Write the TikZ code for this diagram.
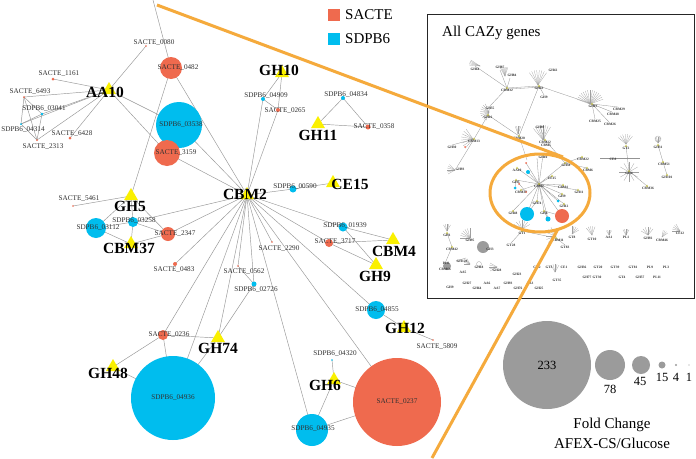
\documentclass[tikz,border=0pt]{standalone}
\usepackage{fontspec}
\setmainfont{Liberation Serif}
\usetikzlibrary{shapes.geometric,backgrounds}
\definecolor{sacred}{RGB}{239,106,78}
\definecolor{sdpblue}{RGB}{0,189,238}
\definecolor{famyellow}{RGB}{250,240,0}
\definecolor{edgegray}{RGB}{150,150,150}
\definecolor{labgray}{RGB}{50,50,50}
\definecolor{fcgray}{RGB}{155,155,155}
\definecolor{zoomorange}{RGB}{245,170,60}
\newcommand\ifanat[6]{\foreach \a in {#3,#4,...,#5} \draw[ifan] (#1,#2) -- ++(\a:#6);}
\begin{document}
\begin{tikzpicture}[x=1pt,y=-1pt,
  edge/.style={draw=edgegray, line width=0.45pt},
  sac/.style={circle, fill=sacred, inner sep=0pt},
  sdp/.style={circle, fill=sdpblue, inner sep=0pt},
  fam/.style={regular polygon, regular polygon sides=3, fill=famyellow, inner sep=0pt, minimum size=16pt},
  famlab/.style={font=\bfseries\fontsize{15.5}{15.5}\selectfont, inner sep=0pt},
  glab/.style={font=\fontsize{7.2}{7.2}\selectfont, text=labgray, inner sep=0pt},
  ilab/.style={font=\bfseries\fontsize{3.5}{3.5}\selectfont, text=black!80, inner sep=0pt},
  iedge/.style={draw=gray!85, line width=0.3pt},
  ifan/.style={draw=gray!75, line width=0.25pt},
  itri/.style={regular polygon, regular polygon sides=3, fill=famyellow!60!gray, inner sep=0pt, minimum size=2.6pt},
  fc/.style={circle, fill=fcgray, inner sep=0pt},
  zoomline/.style={draw=zoomorange, line width=3pt}]
\useasboundingbox (0,0) rectangle (696,458);

% ---------- gene nodes ----------
\node[sac, minimum size=1.6pt] (s0080) at (146,46) {};
\node[sac, minimum size=22pt] (s0482) at (171,68) {};
\node[sac, minimum size=3pt] (s1161) at (53,79) {};
\node[sac, minimum size=2pt] (s6493) at (24,97) {};
\node[sdp, minimum size=2.6pt] (d03041) at (42,114) {};
\node[sdp, minimum size=2pt] (d04314) at (21,124) {};
\node[sac, minimum size=2pt] (s2313) at (37,140) {};
\node[sac, minimum size=3pt] (s6428) at (70,138) {};
\node[sdp, minimum size=46pt] (d03538) at (179,125) {};
\node[sac, minimum size=26pt] (s3159) at (167,153) {};
\node[sdp, minimum size=4pt] (d04909) at (263,99) {};
\node[sac, minimum size=4pt] (s0265) at (278,110) {};
\node[sdp, minimum size=4pt] (d04834) at (343,98) {};
\node[sac, minimum size=5pt] (s0358) at (368,127) {};
\node[sdp, minimum size=7pt] (d00590) at (293,189) {};
\node[sdp, minimum size=9pt] (d01939) at (343,227) {};
\node[sac, minimum size=8pt] (s3717) at (329,243) {};
\node[sac, minimum size=1.6pt] (s2290) at (272,242) {};
\node[sac, minimum size=1.6pt] (s0562) at (238,266) {};
\node[sdp, minimum size=5pt] (d02726) at (254,284) {};
\node[sdp, minimum size=18pt] (d04855) at (376,310) {};
\node[sac, minimum size=1.6pt] (s5809) at (433,340) {};
\node[sdp, minimum size=1.6pt] (d04320) at (332,360) {};
\node[sac, minimum size=88pt] (s0237) at (397,402) {};
\node[sdp, minimum size=32pt] (d04935) at (312,430) {};
\node[sac, minimum size=10pt] (s0236) at (163,335) {};
\node[sdp, minimum size=84pt] (d04936) at (173,398) {};
\node[sac, minimum size=1.6pt] (s5461) at (73,206) {};
\node[sdp, minimum size=10pt] (d03258) at (133,222) {};
\node[sdp, minimum size=20pt] (d03112) at (96,228) {};
\node[sac, minimum size=14pt] (s2347) at (168,234) {};
\node[sac, minimum size=4pt] (s0483) at (175,264) {};
\coordinate (topend) at (153,0);

% ---------- family nodes ----------
\node[fam] (fAA10) at (109,90) {};
\node[fam] (fGH10) at (282,73) {};
\node[fam] (fGH11) at (318,124) {};
\node[fam] (fCE15) at (333,183) {};
\node[fam] (fCBM2) at (247,195) {};
\node[fam] (fCBM4) at (393,240) {};
\node[fam] (fGH9) at (376,265) {};
\node[fam] (fGH12) at (404,328) {};
\node[fam] (fGH6) at (334,380) {};
\node[fam] (fGH74) at (218,338) {};
\node[fam] (fGH48) at (113,367) {};
\node[fam] (fGH5) at (131,196) {};
\node[fam] (fCBM37) at (131,244) {};

% ---------- edges ----------
\begin{scope}[on background layer]
\fill[white] (0,0) rectangle (696,458);
\draw[edge] (topend) -- (s0482.center);
\foreach \a/\b in {fAA10/s0080,fAA10/s1161,fAA10/s6493,fAA10/d03041,fAA10/d04314,fAA10/s2313,fAA10/s6428,fAA10/d03538,fAA10/s3159,
  s6493/d03041,s6493/d04314,s6493/s2313,d03041/d04314,d03041/s2313,d04314/s2313,
  s0482/fGH5,s0482/fCBM2,d03538/s3159,d03538/fCBM2,s3159/fCBM2,
  fGH10/d04909,fGH10/s0265,d04909/s0265,d04909/fCBM2,s0265/fCBM2,
  fGH11/d04834,fGH11/s0358,d04834/s0358,
  fCE15/d00590,d00590/fCBM2,
  fCBM2/d01939,d01939/fCBM4,d01939/fGH9,s3717/fCBM4,s3717/fGH9,fCBM2/s3717,
  fCBM2/s2290,fCBM2/s0562,s0562/d02726,fCBM2/d02726,d02726/fGH74,
  fCBM2/d04855,d04855/fGH12,fGH12/s5809,
  fCBM2/s0237,fCBM2/d04935,fGH6/d04320,fGH6/s0237,fGH6/d04935,d04935/s0237,
  fCBM2/s0236,fCBM2/d04936,fCBM2/fGH74,s0236/fGH48,s0236/fGH74,s0236/d04936,fGH48/d04936,fGH74/d04936,
  fCBM2/d03258,fCBM2/s2347,fCBM2/s0483,
  fGH5/s5461,fGH5/d03258,fGH5/d03112,fGH5/s2347,d03258/fCBM37,d03112/fCBM37,s2347/fCBM37,d03258/s2347,d03112/d03258}
  \draw[edge] (\a.center) -- (\b.center);
\end{scope}

% ---------- gene labels ----------
\node[glab] (l0080) at (154,43) {SACTE\_0080};
\node[glab] (l0482) at (178,68) {SACTE\_0482};
\node[glab] (l1161) at (59,74) {SACTE\_1161};
\node[glab] (l6493) at (30,92) {SACTE\_6493};
\node[glab] (l03041) at (44,109) {SDPB6\_03041};
\node[glab] (l04314) at (23,130) {SDPB6\_04314};
\node[glab] (l6428) at (72,134) {SACTE\_6428};
\node[glab] (l2313) at (43,147) {SACTE\_2313};
\node[glab] (l03538) at (181,125) {SDPB6\_03538};
\node[glab] (l3159) at (176,153) {SACTE\_3159};
\node[glab] (l04909) at (266,96) {SDPB6\_04909};
\node[glab] (l0265) at (285,111) {SACTE\_0265};
\node[glab] (l04834) at (346,95) {SDPB6\_04834};
\node[glab] (l0358) at (374,127) {SACTE\_0358};
\node[glab] (l00590) at (295,187) {SDPB6\_00590};
\node[glab] (l01939) at (345,226) {SDPB6\_01939};
\node[glab] (l3717) at (335,242) {SACTE\_3717};
\node[glab] (l2290) at (279,249) {SACTE\_2290};
\node[glab] (l0562) at (244,272) {SACTE\_0562};
\node[glab] (l02726) at (256,290) {SDPB6\_02726};
\node[glab] (l04855) at (377,310) {SDPB6\_04855};
\node[glab] (l5809) at (437,347) {SACTE\_5809};
\node[glab] (l04320) at (335,354) {SDPB6\_04320};
\node[glab] (l0237) at (397,402) {SACTE\_0237};
\node[glab] (l04935) at (313,429) {SDPB6\_04935};
\node[glab] (l0236) at (169,335) {SACTE\_0236};
\node[glab] (l04936) at (173,398) {SDPB6\_04936};
\node[glab] (l5461) at (79,199) {SACTE\_5461};
\node[glab] (l03258) at (134,221) {SDPB6\_03258};
\node[glab] (l03112) at (98,228) {SDPB6\_03112};
\node[glab] (l2347) at (175,234) {SACTE\_2347};
\node[glab] (l0483) at (174,270) {SACTE\_0483};

% ---------- family labels ----------
\node[famlab] (tAA10) at (105,92) {AA10};
\node[famlab] (tGH10) at (279,70) {GH10};
\node[famlab] (tGH11) at (318,135) {GH11};
\node[famlab] (tCE15) at (350,184) {CE15};
\node[famlab] (tCBM2) at (245,194) {CBM2};
\node[famlab] (tCBM4) at (394,251) {CBM4};
\node[famlab] (tGH9) at (375,276) {GH9};
\node[famlab] (tGH12) at (405,328) {GH12};
\node[famlab] (tGH6) at (325,385) {GH6};
\node[famlab] (tGH74) at (218,348) {GH74};
\node[famlab] (tGH48) at (108,373) {GH48};
\node[famlab] (tGH5) at (130,206) {GH5};
\node[famlab] (tCBM37) at (129,248) {CBM37};

% ---------- species legend ----------
\node[fill=sacred, minimum size=12pt, inner sep=0pt] (kred) at (334,15) {};
\node[anchor=west, font=\fontsize{15}{15}\selectfont, inner sep=0pt] (kredt) at (345,15) {SACTE};
\node[fill=sdpblue, minimum size=12pt, inner sep=0pt] (kblue) at (334,39) {};
\node[anchor=west, font=\fontsize{15}{15}\selectfont, inner sep=0pt] (kbluet) at (345,39) {SDPB6};

% ---------- inset ----------
\draw[line width=0.9pt, draw=black!85] (427,14) rectangle (694,298);
\node[anchor=west, font=\fontsize{15}{15}\selectfont, inner sep=0pt] (ititle) at (442,33) {All CAZy genes};

\begin{scope}
\coordinate (iCBM32) at (507,88);
\coordinate (iGH43) at (539,86);
\coordinate (iGH13) at (592,104);
\coordinate (iGH16) at (488,115);
\coordinate (iCBM13) at (474,139);
\coordinate (iCBM20) at (519,136);
\coordinate (iCBM12) at (545,140);
\coordinate (iGH38) at (565,163);
\coordinate (iCBM2) at (539,184);
\coordinate (iGH5) at (516,180);
\coordinate (iGH6) at (544,211);
\coordinate (iGT2) at (626,146);
\coordinate (iGH4) at (629,171);
\coordinate (iGH31) at (658,145);
\coordinate (iCBM51) at (663,162);
\coordinate (iGT1) at (522,231);
\coordinate (iCBM11) at (556,238);
\coordinate (iGH1) at (447,233);
\coordinate (iCBM42) at (452,247);
\foreach \p in {(475,66),(500,70),(510,78),(490,106)} \draw[iedge] (iCBM32) -- \p;
\draw[iedge] (iCBM32) -- (iGH43);
\draw[iedge] (iGH43) -- (iGH13);
\draw[iedge] (iCBM32) ++(0,1.2) -- ([yshift=-1.2pt]iGH43);
\draw[iedge] (iGH43) -- (544,95);
\draw[iedge] (iGH43) -- (iCBM20);
\draw[iedge] (490,106) -- (iGH16);
\draw[iedge] (iGH16) -- (iCBM13);
\draw[iedge] (iCBM13) -- (452,145);
\draw[iedge] (iCBM13) -- (457,167);
\draw[iedge] (iGH16) -- (iCBM20);
\draw[iedge] (iCBM20) -- (527,160);
\draw[iedge] (iCBM12) -- (iGH38);
\draw[iedge] (540,127) -- (iCBM12);
\draw[iedge] (iGH38) -- (582,157);
\draw[iedge] (iGH38) -- (587,168);
\draw[iedge] (iGH38) -- (iCBM2);
\foreach \p in {(618,107),(612,112),(595,119),(609,122)} \draw[iedge] (iGH13) -- \p;
\draw[iedge] (iGT2) -- (iGH4);
\draw[iedge] (600,158) -- (640,158);
\draw[iedge] (iGH4) -- (647,186);
\draw[iedge] (iGH31) -- (iCBM51) -- (667,175);
\foreach \p in {(543,155),(517,168),(552,176),(516,180),(521,190),(563,185),(562,194),(537,201),(564,204),(513,211),(544,211),(527,214),(562,216),(548,219),(528,172),(558,201),(526,163),(537,158),(578,190)}
  \draw[iedge] (iCBM2) -- \p;
\draw[iedge] (iGH5) -- (515,188);
\draw[iedge] (iGH5) -- (526,192);
\draw[iedge] (iGH6) -- (548,219);
\draw[iedge] (iGH6) -- (562,216);
\draw[iedge] (537,201) -- (527,214);
\draw[iedge] (iGT1) -- (511,243);
\draw[iedge] (iGT1) -- (iCBM11);
\draw[iedge] (iCBM11) -- (565,245);
\draw[iedge] (iGH1) -- (iCBM42) -- (446,261);
\draw[iedge] (456,261) -- (466,258);
\ifanat{480}{66}{-175}{-168}{-145}{11}
\ifanat{505}{76}{-120}{-112}{-70}{9}
\ifanat{538}{85}{-125}{-115}{-55}{15}
\ifanat{590}{104}{-160}{-150}{-20}{14}
\ifanat{489}{112}{-250}{-235}{-110}{9}
\ifanat{473}{139}{-230}{-215}{-120}{12}
\ifanat{455}{170}{150}{165}{225}{8}
\ifanat{518}{134}{-110}{-100}{-70}{8}
\ifanat{543}{140}{-130}{-120}{-60}{15}
\ifanat{626}{144}{-140}{-125}{-40}{10}
\ifanat{629}{172}{0}{30}{330}{10}
\ifanat{658}{143}{-120}{-105}{-60}{6}
\ifanat{447}{231}{-120}{-105}{-60}{7}
\ifanat{470}{238}{-180}{-165}{-90}{10}
\ifanat{522}{229}{-150}{-130}{-30}{9}
\ifanat{556}{236}{-220}{-200}{-120}{10}
\ifanat{572}{234}{-90}{-75}{-30}{8}
\ifanat{592}{235}{-130}{-115}{-60}{9}
\ifanat{609}{235}{-120}{-105}{-60}{5}
\ifanat{626}{235}{-120}{-105}{-60}{6}
\ifanat{648}{235}{-150}{-130}{-50}{8}
\ifanat{662}{237}{-80}{-65}{-30}{7}
\ifanat{680}{231}{-180}{-165}{-120}{8}
\ifanat{497}{267}{150}{165}{210}{8}
\ifanat{555}{272}{-120}{-105}{-60}{8}
\ifanat{470}{264}{180}{195}{240}{6}
\fill[fcgray] (483,247) circle (6pt);
\fill[fcgray] (447,266) circle (4pt);
\draw[ifan] (479,264) circle (2.5pt);
\draw[ifan] (658,139) circle (3pt);
\foreach \p in {(507,88),(539,86),(592,104),(488,115),(474,139),(519,136),(545,140),(565,163),(539,184),(516,180),(544,211),(626,146),(629,171),(658,145),(663,162),(667,175),(647,186),(522,231),(556,238),(447,233),(452,247),(537,201),(513,211),(563,185),(562,194),(564,204),(552,176),(543,155),(517,168),(521,190),(578,190),(582,157),(587,168)}
  \node[itri] at \p {};
\node[sdp, minimum size=14pt] (iblue) at (527,214) {};
\node[sac, minimum size=14pt] (ired) at (562,216) {};
\node[sdp, minimum size=5pt] (iblue2) at (548,219) {};
\node[sdp, minimum size=4pt] (iblue3) at (528,172) {};
\node[sdp, minimum size=3pt] (iblue4) at (515,188) {};
\node[sdp, minimum size=3pt] (iblue5) at (558,201) {};
\node[sac, minimum size=2pt] (ired2) at (526,163) {};
\node[sac, minimum size=2pt] (ired3) at (519,184) {};
\node[sac, minimum size=2pt] (ired4) at (526,192) {};
\node[sac, minimum size=2pt] (ired5) at (465,147) {};
\foreach \x/\y/\t [count=\i] in {475/69/GH64, 500/67/GH87, 512/75/GH84, 507/90/CBM32, 553/70/GH42, 539/88/GH43, 544/97/GH9, 490/108/GH55, 488/117/GH16, 474/141/CBM13, 452/147/GH30, 460/169/GH93, 519/138/CBM20, 540/127/GH89, 545/142/CBM12, 546/145/CBM5, 593/106/GH13, 619/109/CBM29, 613/114/CBM48, 595/121/CBM25, 610/124/CBM26, 626/148/GT2, 658/147/GH31, 613/159/CE8, 664/164/CBM51, 629/173/GH4, 667/177/GH101, 648/188/CBM36, 583/159/CBM22, 588/170/CBM6, 543/157/GH10, 566/165/GH38, 517/170/AA10, 552/178/CE15, 539/186/CBM2, 516/182/GH5, 521/192/CBM37, 563/187/CBM4, 562/196/GH9, 579/192/GH11, 537/203/GH74, 564/206/GH12, 513/213/GH48, 544/213/GH6, 447/235/GH1, 470/240/GH95, 490/249/GH3, 522/233/GT1, 511/245/GT28, 558/240/CBM11, 565/247/GT83, 572/237/GT8, 592/239/GT10, 609/237/AA1, 626/237/PL1, 648/238/GH92, 662/240/CBM46, 680/233/CE12, 452/249/CBM42, 446/263/PL8, 462/261/GH129, 445/269/CBM66, 463/272/AA5, 479/267/GH18, 497/270/GH28, 517/274/GH23, 537/267/GH2, 549/267/GT3, 564/267/CE1, 557/280/GT35, 582/267/GH36, 587/277/GH77, 598/267/GT20, 597/277/GT30, 615/267/GT39, 622/277/GT4, 633/267/GT81, 640/277/GH57, 650/267/PL9, 657/277/PL11, 666/267/PL3, 467/283/GH27, 487/283/AA6, 508/283/GH93, 530/283/AA3, 450/287/GH9, 477/288/GH64, 497/288/AA7, 518/288/GH76, 539/288/GH25}
  \node[ilab] (il\i) at (\x,\y) {\t};
\end{scope}

% ---------- zoom marker ----------
\node[ellipse, draw=zoomorange, line width=3pt, minimum width=100pt, minimum height=78pt, inner sep=0pt] (zell) at (540,193) {};
\coordinate (zo1) at (157,5);
\coordinate (zo2) at (563,157);
\coordinate (zo3) at (558,229);
\coordinate (zo4) at (432,458);
\draw[zoomline] (zo1) -- (zo2);
\draw[zoomline] (zo3) -- (zo4);

% ---------- fold change legend ----------
\node[fc, minimum size=88pt] (fc233) at (547,365) {};
\node[font=\fontsize{12.5}{12.5}\selectfont, inner sep=0pt] (t233) at (547,365) {233};
\node[fc, minimum size=30pt] (fc78) at (610,365) {};
\node[font=\fontsize{12.5}{12.5}\selectfont, inner sep=0pt] (t78) at (610,389) {78};
\node[fc, minimum size=18pt] (fc45) at (641,365) {};
\node[font=\fontsize{12.5}{12.5}\selectfont, inner sep=0pt] (t45) at (640,381) {45};
\node[fc, minimum size=7pt] (fc15) at (662,365) {};
\node[font=\fontsize{12.5}{12.5}\selectfont, inner sep=0pt] (t15) at (662,377) {15};
\node[fc, minimum size=2.4pt] (fc4) at (676,365) {};
\node[font=\fontsize{12.5}{12.5}\selectfont, inner sep=0pt] (t4) at (676,377) {4};
\node[fc, minimum size=1.2pt] (fc1) at (689,365) {};
\node[font=\fontsize{12.5}{12.5}\selectfont, inner sep=0pt] (t1) at (689,377) {1};
\node[font=\fontsize{15}{15}\selectfont, inner sep=0pt] (tfold) at (612,425) {Fold Change};
\node[font=\fontsize{15}{15}\selectfont, inner sep=0pt] (tafex) at (612,443) {AFEX-CS/Glucose};
\end{tikzpicture}
\end{document}
